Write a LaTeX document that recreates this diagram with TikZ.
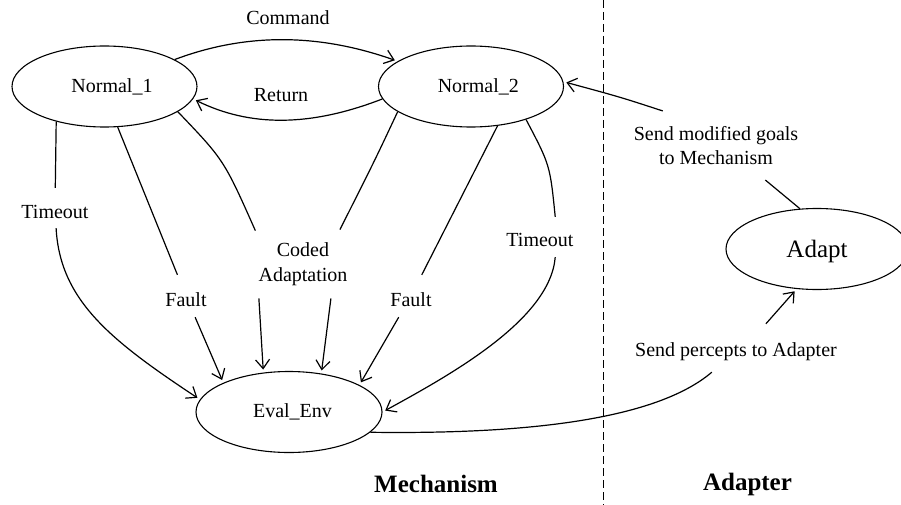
\documentclass[tikz,border=0pt]{standalone}
\usepackage{fontspec}
\setmainfont{Liberation Serif}
\usetikzlibrary{shapes.geometric,arrows.meta}
\begin{document}
\begin{tikzpicture}[x=1pt,y=-1pt,
  every node/.style={font=\fontsize{20}{24.4}\selectfont},
  st/.style={ellipse, draw, line width=1.1pt, inner sep=0pt, minimum height=81pt},
  lbl/.style={inner xsep=3pt, inner ysep=3pt},
  conn/.style={line width=1.2pt},
  arr/.style={conn, -{Straight Barb[length=9pt,width=14pt]}, shorten >=3pt},
  ttl/.style={font=\fontsize{25}{30}\selectfont\bfseries}
]
\useasboundingbox (0,0) rectangle (901,505);

% states
\node[st, minimum width=185pt] (n1) at (104.5,86.5) {\hspace*{15pt}Normal\_1};
\node[st, minimum width=185pt] (n2) at (471,86.5) {\hspace*{14.6pt}Normal\_2};
\node[st, minimum width=186pt] (ev) at (289,412) {\hspace*{7pt}Eval\_Env};
\node[st, minimum width=182pt, font=\fontsize{25}{30}\selectfont, text depth=0pt] (ad) at (817,249) {Adapt};

% labels
\node[lbl, anchor=base] (lcmd) at (288,25) {Command};
\node[lbl, anchor=base] (lret) at (281,101.7) {Return};
\node[lbl, anchor=base, text height=27.3pt, text depth=6.7pt] (tl) at (55,218.3) {Timeout};
\node[lbl, anchor=base, text height=28pt, text depth=8pt] (fl) at (186,306) {Fault};
\node[lbl, anchor=base, text height=28pt, text depth=8pt] (fr) at (411,306) {Fault};
\node[lbl, anchor=base, text height=26pt, text depth=8pt] (tr) at (540,246) {Timeout};
\node[lbl, align=center, inner ysep=13pt] (ca) at (303,264) {Coded\\Adaptation};
\node[lbl, anchor=base, text height=29pt, text depth=13pt] (sp) at (736,356) {Send percepts to Adapter};
\node[lbl, align=center, inner ysep=15pt] (sg) at (716,145.5) {Send modified goals\\to Mechanism};

% titles
\node[ttl, anchor=base] (tm) at (436,492) {Mechanism};
\node[ttl, anchor=base] (ta) at (747.5,490) {Adapter};

% divider
\draw[line width=1pt, dash pattern=on 8pt off 4pt] (603,0) -- (603,505);

% connectors
\draw[arr] (n1.21) .. controls (245,33) and (318,33) .. (n2.161);
\draw[arr] (n2.188) .. controls (310,127) and (250,127) .. (n1.-8);
\draw[arr] (n1.216) -- (tl) .. controls (60,300) and (110,340) .. (ev.172);
\draw[arr] (n1.288) -- (fl) -- (ev.156);
\draw[arr] (n1.341) .. controls (224,160) .. (ca.145) (ca.218) -- (ev.123);
\draw[arr] (n2.199) .. controls (375,160) .. (ca.43) (ca.309) -- (ev.50);
\draw[arr] (n2.304) -- (fr) -- (ev.21);
\draw[arr] (n2.329) .. controls (550,165) .. (tr.53) (tr.307) .. controls (550,320) and (450,375) .. (ev.0);
\draw[arr] (ev.346) .. controls (500,434) and (650,425) .. (sp.225) (sp.39) -- (ad.243);
\draw[arr] (ad.113) -- (sg.325) (sg.147) .. controls (620,97) .. (n2.3);
\end{tikzpicture}
\end{document}
